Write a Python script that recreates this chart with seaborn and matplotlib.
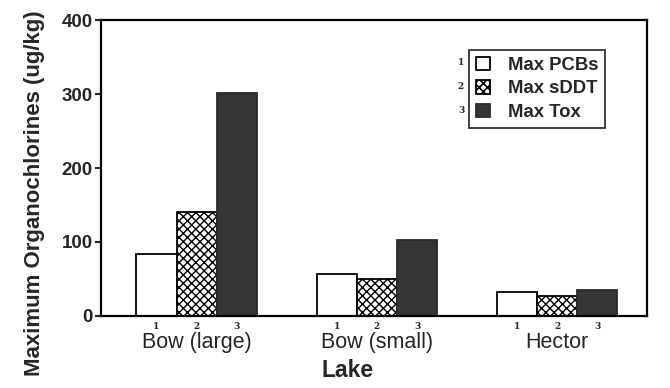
import matplotlib
matplotlib.use("Agg")
import matplotlib.pyplot as plt
import seaborn as sns
import pandas as pd

lakes = ["Bow (large)", "Bow (small)", "Hector"]
series = ["Max PCBs", "Max sDDT", "Max Tox"]
max_pcbs = [84, 57, 32]
max_sddt = [141, 50, 27]
max_tox = [301, 103, 35]
y_ticks = [0, 100, 200, 300, 400]

rows = []
for name, vals in zip(series, [max_pcbs, max_sddt, max_tox]):
    for lake, v in zip(lakes, vals):
        rows.append({"Lake": lake, "Series": name, "Value": v})
df = pd.DataFrame(rows)

sns.set_style("ticks")
plt.rcParams["font.family"] = ["Liberation Sans", "DejaVu Sans"]

fig = plt.figure(figsize=(6.7, 3.88), dpi=100)
ax = fig.add_axes([0.151, 0.186, 0.815, 0.762])

palette = {"Max PCBs": "white", "Max sDDT": "white", "Max Tox": "#353535"}
sns.barplot(data=df, x="Lake", y="Value", hue="Series", palette=palette,
            width=0.67, edgecolor="black", linewidth=1.3, saturation=1,
            ax=ax, legend=False)
plt.rcParams["hatch.linewidth"] = 1.2
for p in ax.containers[1]:
    p.set_hatch("xxxx")
for p in ax.containers[2]:
    p.set_edgecolor("#2a2a2a")

ax.set_ylim(0, 400)
ax.set_xlim(-0.53, 2.50)
ax.set_yticks(y_ticks)
ax.set_yticklabels([str(t) for t in y_ticks], fontsize=13.5, fontweight="bold")
ax.tick_params(axis="y", length=4, width=1.5, pad=2)
ax.tick_params(axis="x", length=0, pad=12, labelsize=15.5)
for s in ax.spines.values():
    s.set_visible(True)
    s.set_linewidth(1.6)
    s.set_color("black")

ax.set_ylabel("Maximum Organochlorines (ug/kg)", fontsize=16, fontweight="bold")
ax.yaxis.set_label_coords(-0.103, 0.415)
ax.set_xlabel("Lake", fontsize=16.5, fontweight="bold")
ax.xaxis.set_label_coords(0.452, -0.145)

# small numbers under each bar
for i, cont in enumerate(ax.containers):
    for p in cont:
        cx = p.get_x() + p.get_width() / 2
        ax.text(cx, -0.02, str(i + 1), transform=ax.get_xaxis_transform(),
                ha="center", va="top", fontsize=6.5, fontweight="bold",
                family="DejaVu Serif")

handles = [cont[0] for cont in ax.containers]
leg = ax.legend(handles, series, loc="upper left", bbox_to_anchor=(0.674, 0.899),
                borderaxespad=0, fancybox=False, frameon=True,
                handlelength=0.75, handleheight=0.75, handletextpad=1.0,
                labelspacing=0.35, prop={"weight": "bold", "size": 13.3},
                borderpad=0.35)
leg.get_frame().set_edgecolor("black")
leg.get_frame().set_linewidth(1.3)
for j, y in enumerate([0.858, 0.777, 0.693]):
    ax.text(0.659, y, str(j + 1), transform=ax.transAxes, ha="center",
            va="center", fontsize=6.5, fontweight="bold", family="DejaVu Serif")

fig.savefig("out.png", dpi=100)
